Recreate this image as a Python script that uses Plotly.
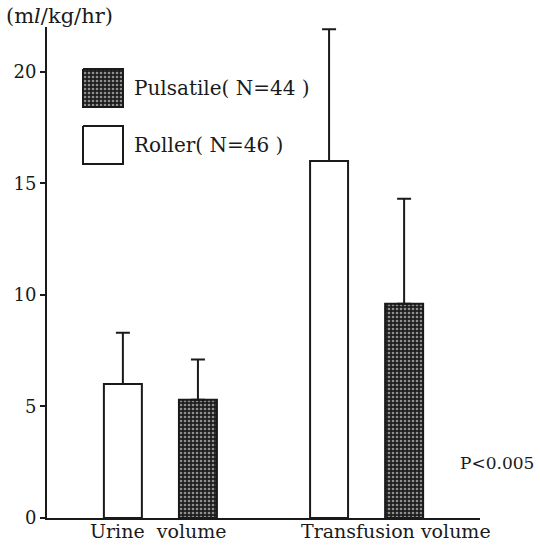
import plotly.graph_objects as go

# ---- data ----
categories = ["Urine volume", "Transfusion volume"]
roller_mean = [6.0, 16.0]
roller_sd = [2.3, 5.9]
pulsatile_mean = [5.3, 9.6]
pulsatile_sd = [1.8, 4.7]
y_ticks = [0, 5, 10, 15, 20]
legend_labels = ["Pulsatile( N=44 )", "Roller( N=46 )"]
unit_label = "(m<i>l</i>/kg/hr)"
p_label = "P<0.005"

FONT = "DejaVu Serif"
INK = "#1a1a1a"
PATTERN = dict(shape=".", bgcolor="#1e1e1e", fgcolor="#ffffff", size=4, solidity=0.35)

# plot area in page pixels
PL, PR, PT, PB = 47, 480, 27, 518
W, H = 540, 549


def px(x):
    return (x - PL) / (PR - PL)


def py(y):
    return (PB - y) / (PB - PT)


fig = go.Figure()
fig.add_trace(go.Bar(
    x=categories, y=roller_mean, name="Roller",
    marker=dict(color="white", line=dict(color=INK, width=2)),
    error_y=dict(type="data", array=roller_sd, arrayminus=[0, 0], symmetric=False,
                 color=INK, thickness=2, width=7),
    showlegend=False,
))
fig.add_trace(go.Bar(
    x=categories, y=pulsatile_mean, name="Pulsatile",
    marker=dict(color="#1e1e1e", pattern=PATTERN, line=dict(color=INK, width=2)),
    error_y=dict(type="data", array=pulsatile_sd, arrayminus=[0, 0], symmetric=False,
                 color=INK, thickness=2, width=7),
    showlegend=False,
))

# legend swatches drawn on a hidden pixel-space overlay axis (x2/y2 = page pixels)
LX0, LX1 = 83, 123
LEG_Y = [(69, 107), (126, 164)]
fig.add_trace(go.Scatter(
    x=[LX0, LX1, LX1, LX0, LX0], y=[LEG_Y[0][0], LEG_Y[0][0], LEG_Y[0][1], LEG_Y[0][1], LEG_Y[0][0]],
    xaxis="x2", yaxis="y2", mode="lines", fill="toself",
    fillcolor="#1e1e1e", fillpattern=PATTERN,
    line=dict(color=INK, width=2), showlegend=False, hoverinfo="skip",
))
fig.add_trace(go.Scatter(
    x=[LX0, LX1, LX1, LX0, LX0], y=[LEG_Y[1][0], LEG_Y[1][0], LEG_Y[1][1], LEG_Y[1][1], LEG_Y[1][0]],
    xaxis="x2", yaxis="y2", mode="lines", fill="toself", fillcolor="white",
    line=dict(color=INK, width=2), showlegend=False, hoverinfo="skip",
))

annotations = []
for lbl, (y0, y1) in zip(legend_labels, LEG_Y):
    annotations.append(dict(x=px(LX1 + 9), y=py((y0 + y1) / 2), xref="paper", yref="paper",
                            text=lbl, showarrow=False, xanchor="left", yanchor="middle",
                            font=dict(family=FONT, size=20, color=INK)))
annotations.append(dict(x=px(158), y=py(531), xref="paper", yref="paper", text="Urine  volume",
                        showarrow=False, xanchor="center", yanchor="middle",
                        font=dict(family=FONT, size=19, color=INK)))
annotations.append(dict(x=px(396), y=py(531), xref="paper", yref="paper", text="Transfusion volume",
                        showarrow=False, xanchor="center", yanchor="middle",
                        font=dict(family=FONT, size=19, color=INK)))
annotations.append(dict(x=px(458), y=py(463), xref="paper", yref="paper", text=p_label,
                        showarrow=False, xanchor="left", yanchor="middle",
                        font=dict(family=FONT, size=17, color=INK)))
annotations.append(dict(x=px(4), y=py(16), xref="paper", yref="paper", text=unit_label,
                        showarrow=False, xanchor="left", yanchor="middle",
                        font=dict(family=FONT, size=21, color=INK)))

fig.update_layout(
    width=W, height=H,
    margin=dict(l=PL, r=W - PR, t=PT, b=H - PB),
    paper_bgcolor="white", plot_bgcolor="white",
    barmode="group", bargap=0.272, bargroupgap=0.494,
    xaxis=dict(range=[-0.55, 1.55], showticklabels=False, ticks="", showgrid=False,
               showline=True, linecolor=INK, linewidth=2, zeroline=False, fixedrange=True),
    yaxis=dict(range=[0, 22], tickvals=y_ticks, ticks="outside", ticklen=5, tickwidth=2,
               tickcolor=INK, showgrid=False, zeroline=False, showline=True, linecolor=INK,
               linewidth=2, tickfont=dict(family=FONT, size=18, color=INK)),
    xaxis2=dict(domain=[0, 1], range=[PL, PR], overlaying="x", anchor="y2", visible=False),
    yaxis2=dict(domain=[0, 1], range=[PB, PT], overlaying="y", anchor="x2", visible=False),
    annotations=annotations,
)

fig.write_html("out.html", config={"displayModeBar": False},
               post_script="document.body.style.margin='0';")
